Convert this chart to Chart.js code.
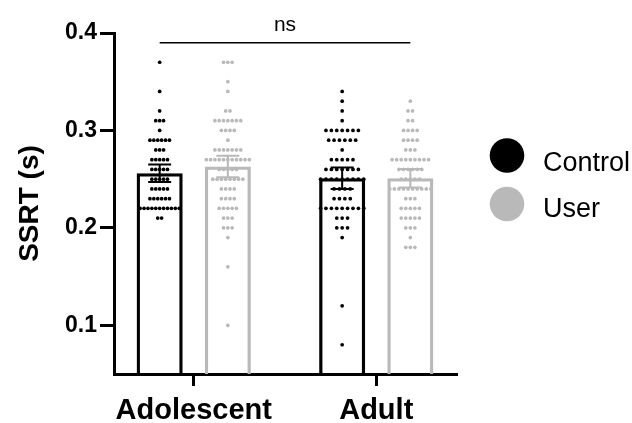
<!DOCTYPE html>
<html>
<head>
<meta charset="utf-8">
<script src="https://cdn.jsdelivr.net/npm/chart.js@4.4.1/dist/chart.umd.min.js"></script>
<style>
  html, body { margin: 0; padding: 0; background: #fff; }
  #wrap { width: 632px; height: 423px; position: relative; }
</style>
</head>
<body>
<div id="wrap"><canvas id="c"></canvas></div>
<script>
// ---------------- data ----------------
const groups = ['Adolescent', 'Adult'];
const seriesNames = ['Control', 'User'];

// bar heights (means) and error-bar half lengths
const controlMeans = [0.256, 0.251];
const userMeans    = [0.263, 0.251];
const controlErr   = [0.009, 0.011];
const userErr      = [0.011, 0.0095];

// y-axis tick labels
const yTicks = [0.1, 0.2, 0.3, 0.4];

// significance bracket
const sigLabel = 'ns';
const sigValue = 0.39;

// individual observations as [value, number of subjects with that value]
const adolControlRows = [[0.37,1],[0.34,1],[0.32,1],[0.31,3],[0.30,1],[0.29,6],[0.28,3],[0.27,5],[0.26,5],[0.25,5],[0.24,5],[0.23,6],[0.22,11],[0.21,2]];
const adolUserRows    = [[0.37,3],[0.35,1],[0.34,1],[0.32,2],[0.31,7],[0.30,4],[0.29,1],[0.28,7],[0.27,11],[0.26,5],[0.25,8],[0.24,4],[0.23,4],[0.22,5],[0.21,3],[0.20,3],[0.19,1],[0.16,1],[0.10,1]];
const adultControlRows = [[0.34,1],[0.33,1],[0.32,1],[0.31,1],[0.30,7],[0.29,6],[0.28,1],[0.27,5],[0.26,7],[0.25,9],[0.24,4],[0.23,4],[0.22,9],[0.21,3],[0.20,3],[0.19,1],[0.12,1],[0.08,1]];
const adultUserRows    = [[0.33,1],[0.32,2],[0.31,2],[0.30,4],[0.29,4],[0.28,3],[0.27,9],[0.26,6],[0.25,5],[0.24,10],[0.23,3],[0.22,5],[0.21,5],[0.20,3],[0.19,1],[0.18,3]];

// ---------------- style / layout ----------------
const BLACK = '#000000';
const GREY = '#b9b9b9';
const FONT = "'Liberation Sans', Arial, Helvetica, sans-serif";
const CAT_PCT = 0.747;
const BAR_PCT = 0.676;
const SERIES_OFFSET = CAT_PCT / 4;   // centre of each bar within its group (x units)

Chart.defaults.font.family = FONT;
Chart.defaults.color = BLACK;

function swarm(rows, groupIndex, side, spacing) {
  const pts = [];
  rows.forEach(([v, n]) => {
    for (let k = 0; k < n; k++) {
      pts.push({ x: groupIndex + side * SERIES_OFFSET + (k - (n - 1) / 2) * spacing, y: v });
    }
  });
  return pts;
}

const controlDots = swarm(adolControlRows, 0, -1, 0.0214).concat(swarm(adultControlRows, 1, -1, 0.0296));
const userDots = swarm(adolUserRows, 0, 1, 0.0236).concat(swarm(adultUserRows, 1, 1, 0.0250));

const overlay = {
  id: 'overlay',
  afterDatasetsDraw(chart) {
    const ctx = chart.ctx;
    const ys = chart.scales.y;
    const specs = [[2, controlMeans, controlErr, BLACK], [3, userMeans, userErr, GREY]];
    specs.forEach(([di, means, errs, col]) => {
      const meta = chart.getDatasetMeta(di);
      meta.data.forEach((el, i) => {
        const x = el.x;
        const top = ys.getPixelForValue(means[i] + errs[i]);
        const bot = ys.getPixelForValue(means[i] - errs[i]);
        const half = 11.5;
        ctx.save();
        ctx.strokeStyle = col;
        ctx.lineWidth = 2;
        ctx.beginPath();
        ctx.moveTo(x, top); ctx.lineTo(x, bot);
        ctx.moveTo(x - half, top); ctx.lineTo(x + half, top);
        ctx.moveTo(x - half, bot); ctx.lineTo(x + half, bot);
        ctx.stroke();
        ctx.restore();
      });
    });
    // significance bracket
    const a = chart.getDatasetMeta(2).data[0];
    const b = chart.getDatasetMeta(3).data[1];
    const sy = ys.getPixelForValue(sigValue);
    ctx.save();
    ctx.strokeStyle = BLACK;
    ctx.lineWidth = 1.6;
    ctx.beginPath();
    ctx.moveTo(a.x, sy); ctx.lineTo(b.x, sy);
    ctx.stroke();
    ctx.fillStyle = BLACK;
    ctx.font = '21px ' + FONT;
    ctx.textAlign = 'center';
    ctx.textBaseline = 'alphabetic';
    ctx.fillText(sigLabel, (a.x + b.x) / 2, sy - 12);
    ctx.restore();
  },
  afterDraw(chart) {
    const ctx = chart.ctx;
    const ca = chart.chartArea;
    const cx = ca.right + 51;
    const rowsY = [155.5, 204];
    const cols = [BLACK, GREY];
    ctx.save();
    seriesNames.forEach((name, i) => {
      ctx.fillStyle = cols[i];
      ctx.beginPath();
      ctx.arc(cx, rowsY[i], 17.3, 0, Math.PI * 2);
      ctx.fill();
      ctx.fillStyle = BLACK;
      ctx.font = '27px ' + FONT;
      ctx.textAlign = 'left';
      ctx.textBaseline = 'alphabetic';
      ctx.fillText(name, cx + 36, rowsY[i] + (i === 0 ? 15 : 12.5));
    });
    ctx.restore();
  }
};

new Chart(document.getElementById('c'), {
  type: 'bar',
  data: {
    datasets: [
      { type: 'scatter', label: 'Control points', data: controlDots, pointRadius: 1.85, pointBackgroundColor: BLACK, pointBorderWidth: 0, order: 1 },
      { type: 'scatter', label: 'User points', data: userDots, pointRadius: 1.85, pointBackgroundColor: GREY, pointBorderWidth: 0, order: 1 },
      { type: 'bar', label: seriesNames[0], data: controlMeans.map((m, i) => ({ x: i, y: m })),
        backgroundColor: 'rgba(255,255,255,0)', borderColor: BLACK, borderWidth: 3.3,
        categoryPercentage: CAT_PCT, barPercentage: BAR_PCT, order: 2, clip: 0 },
      { type: 'bar', label: seriesNames[1], data: userMeans.map((m, i) => ({ x: i, y: m })),
        backgroundColor: 'rgba(255,255,255,0)', borderColor: GREY, borderWidth: 3.3,
        categoryPercentage: CAT_PCT, barPercentage: BAR_PCT, order: 2, clip: 0 }
    ]
  },
  options: {
    responsive: true,
    maintainAspectRatio: false,
    animation: false,
    events: [],
    layout: { padding: { top: 33, right: 176, left: 0, bottom: 0 } },
    plugins: { legend: { display: false }, tooltip: { enabled: false } },
    scales: {
      x: {
        type: 'linear', min: -0.437, max: 1.437, offset: false,
        afterBuildTicks: s => { s.ticks = groups.map((g, i) => ({ value: i })); },
        afterFit: s => { s.height = 49; },
        ticks: { font: { size: 29, weight: 'bold' }, color: BLACK, padding: 8, maxRotation: 0, autoSkip: false,
                 callback: v => groups[v] },
        grid: { offset: false, drawOnChartArea: false, drawTicks: true, tickLength: 12, lineWidth: 3, color: BLACK },
        border: { display: true, width: 3, color: BLACK }
      },
      y: {
        type: 'linear', min: 0.05, max: 0.4,
        afterBuildTicks: s => { s.ticks = yTicks.map(v => ({ value: v })); },
        afterFit: s => { s.width = 114; },
        ticks: { font: { size: 23, weight: 'bold' }, color: BLACK, padding: 3, callback: v => v.toFixed(1) },
        grid: { drawOnChartArea: false, drawTicks: true, tickLength: 14, lineWidth: 3, color: BLACK },
        border: { display: true, width: 3, color: BLACK },
        title: { display: true, text: 'SSRT (s)', font: { size: 28, weight: 'bold' }, color: BLACK, padding: { top: 13, bottom: 0 } }
      }
    }
  },
  plugins: [overlay]
});
</script>
</body>
</html>
